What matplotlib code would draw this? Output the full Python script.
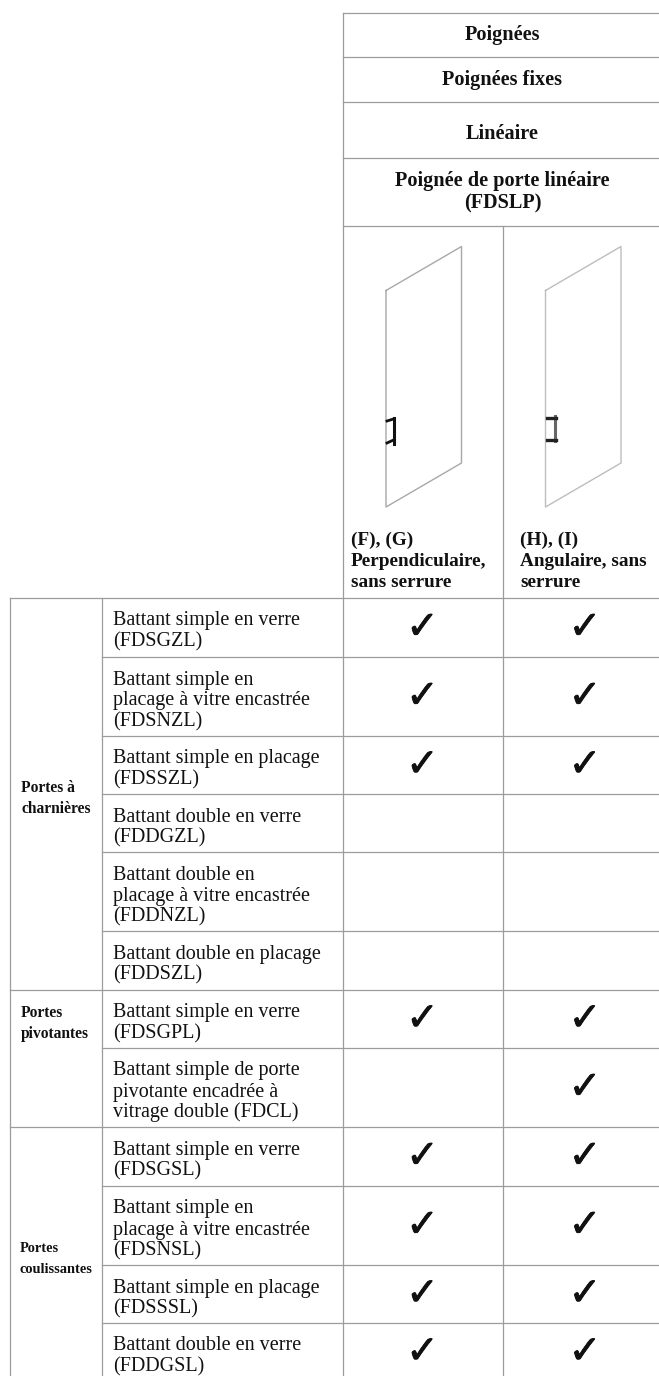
import matplotlib
matplotlib.use("Agg")
import matplotlib.pyplot as plt
import matplotlib.patheffects as pe

plt.rcParams["font.family"] = ["Liberation Serif", "DejaVu Sans"]

# Table content
header_rows = ["Poignées", "Poignées fixes", "Linéaire", "Poignée de porte linéaire\n(FDSLP)"]
column_labels = ["(F), (G)\nPerpendiculaire,\nsans serrure", "(H), (I)\nAngulaire, sans\nserrure"]
groups = ["Portes à\ncharnières", "Portes\npivotantes", "Portes\ncoulissantes"]
rows = [
    "Battant simple en verre\n(FDSGZL)",
    "Battant simple en\nplacage à vitre encastrée\n(FDSNZL)",
    "Battant simple en placage\n(FDSSZL)",
    "Battant double en verre\n(FDDGZL)",
    "Battant double en\nplacage à vitre encastrée\n(FDDNZL)",
    "Battant double en placage\n(FDDSZL)",
    "Battant simple en verre\n(FDSGPL)",
    "Battant simple de porte\npivotante encadrée à\nvitrage double (FDCL)",
    "Battant simple en verre\n(FDSGSL)",
    "Battant simple en\nplacage à vitre encastrée\n(FDSNSL)",
    "Battant simple en placage\n(FDSSSL)",
    "Battant double en verre\n(FDDGSL)",
]
col1_checks = [1, 1, 1, 0, 0, 0, 1, 0, 1, 1, 1, 1]
col2_checks = [1, 1, 1, 0, 0, 0, 1, 1, 1, 1, 1, 1]

# Layout, in pixels
header_lines = [13, 57, 102, 158, 226]
header_base = [40, 85, 139, 186]
row_lines = [598, 657, 736, 794, 852, 931, 990, 1048, 1127, 1186, 1265, 1323, 1381]
group_lines = [598, 990, 1127]
group_base = [792, 1017, 1252]
group_size = [11.2, 11.2, 10.4]
x_left, x_group, x_main, x_mid, x_right = 9.5, 101.5, 343, 503, 659
line_col = "#9c9c9c"

fig = plt.figure(figsize=(6.59, 13.76), dpi=100)
ax = fig.add_axes([0, 0, 1, 1])
ax.set_xlim(0, 659)
ax.set_ylim(1376, 0)
ax.axis("off")


def put_lines(x, y, label, pitch=21, **kw):
    for i, part in enumerate(label.split("\n")):
        ax.text(x, y + i * pitch, part, va="baseline", color="#111111", **kw)


def put_check(x, y):
    ax.text(x, y, "\u2713", ha="center", va="center", fontsize=28, family="DejaVu Sans",
            color="#111111", path_effects=[pe.withStroke(linewidth=0.6, foreground="#111111")])


# Grid
for y in header_lines:
    ax.plot([x_main, x_right], [y, y], color=line_col, lw=0.9)
for y in row_lines:
    x0 = x_left if y in group_lines else x_group
    ax.plot([x0, x_right], [y, y], color=line_col, lw=0.9)
ax.plot([x_main, x_main], [13, 1376], color=line_col, lw=0.9)
ax.plot([x_mid, x_mid], [226, 1376], color=line_col, lw=0.9)
ax.plot([x_group, x_group], [598, 1376], color=line_col, lw=0.9)
ax.plot([x_left, x_left], [598, 1376], color=line_col, lw=0.9)

# Headers
for y, label in zip(header_base, header_rows):
    put_lines(502.5, y, label, pitch=22, ha="center", fontsize=14.6, fontweight="bold")
for x, label in zip([351, 520], column_labels):
    put_lines(x, 545, label, ha="left", fontsize=13.9, fontweight="bold")

# Door drawings
for dx, col in [(0, "#a8a8a8"), (159.5, "#bdbdbd")]:
    ax.plot([386 + dx, 461.5 + dx, 461.5 + dx, 386 + dx, 386 + dx],
            [290.5, 246.5, 463, 507, 290.5], color=col, lw=1.0)
# left handle
ax.plot([393.5, 393.5], [418, 444], color="#111111", lw=2.2)
ax.plot([387, 393.5], [421, 419], color="#111111", lw=2.0)
ax.plot([387, 393.5], [443, 440], color="#111111", lw=2.0)
# right handle
ax.plot([554.5, 554.5], [416, 441], color="#666666", lw=2.2)
ax.plot([547, 556], [417.5, 417.5], color="#222222", lw=2.4)
ax.plot([547, 556], [439.5, 439.5], color="#222222", lw=2.4)

# Groups and rows
for x, y, label, size in zip([21, 21, 20], group_base, groups, group_size):
    put_lines(x, y, label, ha="left", fontsize=size, fontweight="bold")
for i, label in enumerate(rows):
    top = row_lines[i]
    put_lines(113, top + 27.5, label, ha="left", fontsize=14.5)
    mid = (top + row_lines[i + 1]) / 2
    if col1_checks[i]:
        put_check(422.5, mid)
    if col2_checks[i]:
        put_check(585, mid)

fig.savefig("out.png", dpi=100)
